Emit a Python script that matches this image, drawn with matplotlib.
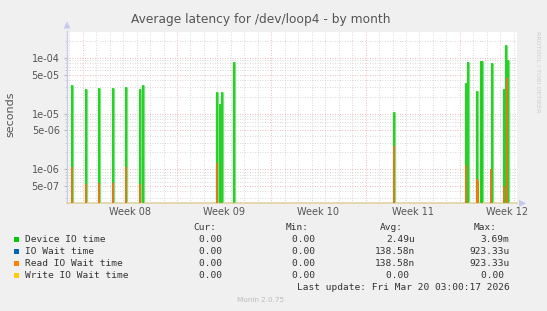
import matplotlib
matplotlib.use("Agg")
import matplotlib.pyplot as plt
from matplotlib.ticker import LogLocator, FuncFormatter, NullFormatter
import numpy as np

# ---- data (x in days from Monday of Week 08) ----
device_days = [-0.77, 0.27, 1.23, 2.27, 3.24, 4.28, 4.45,
               9.95, 10.17, 10.32, 11.25,
               23.13,
               28.48, 28.63, 29.27, 29.55, 29.62, 30.39, 31.30, 31.45, 31.55]
device_vals = [3.2e-5, 2.8e-5, 2.9e-5, 2.9e-5, 3.0e-5, 2.8e-5, 3.3e-5,
               2.4e-5, 1.5e-5, 2.4e-5, 8.6e-5,
               1.07e-5,
               3.6e-5, 8.5e-5, 2.5e-5, 8.7e-5, 8.7e-5, 8.2e-5, 2.8e-5, 1.74e-4, 9.0e-5]
read_days = [-0.77, 0.27, 1.23, 2.27, 3.24, 4.28,
             9.95, 23.13, 28.48, 29.27, 29.35, 30.33, 31.30, 31.47]
read_vals = [1.1e-6, 5.4e-7, 5.6e-7, 5.6e-7, 1.1e-6, 5.4e-7,
             1.3e-6, 2.6e-6, 1.2e-6, 6.8e-7, 6.2e-7, 1.0e-6, 5.0e-7, 4.4e-5]
iowait_days = read_days
iowait_vals = read_vals

week_labels = ["Week 08", "Week 09", "Week 10", "Week 11", "Week 12"]
ytick_vals = [5e-7, 1e-6, 5e-6, 1e-5, 5e-5, 1e-4]

legend_names = ["Device IO time", "IO Wait time", "Read IO Wait time", "Write IO Wait time"]
legend_colors = ["#00CC00", "#0066B3", "#FF8000", "#FFCC00"]
cur_vals = ["0.00 ", "0.00 ", "0.00 ", "0.00 "]
min_vals = ["0.00 ", "0.00 ", "0.00 ", "0.00 "]
avg_vals = ["2.49u", "138.58n", "138.58n", "0.00 "]
max_vals = ["3.69m", "923.33u", "923.33u", "0.00 "]

W, H = 547, 311
BG = "#F0F0F0"
TXT = "#555555"

fig = plt.figure(figsize=(W / 100, H / 100), dpi=100, facecolor=BG)
L, R, T, B = 66.7, 516.7, 31.5, 203.3
ax = fig.add_axes([L / W, 1 - B / H, (R - L) / W, (B - T) / H])
ax.set_facecolor("white")

xmin, xmax = -1.19, 32.22
ymin, ymax = 2.44e-7, 2.98e-4
ax.set_xlim(xmin, xmax)
ax.set_yscale("log")
ax.set_ylim(ymin, ymax)

# grid
dot = (0, (1, 2))
for d in range(-1, 33):
    if d % 7 == 0:
        ax.axvline(d, color="#E8A8A8", lw=0.6, ls=dot, zorder=1)
    else:
        ax.axvline(d, color="#CCCCCC", lw=0.6, ls=dot, zorder=1)
ax.yaxis.set_major_locator(LogLocator(base=10, subs=(1.0, 5.0)))
ax.yaxis.set_minor_locator(LogLocator(base=10, subs=(2.0, 3.0, 4.0, 6.0, 7.0, 8.0, 9.0)))
ax.yaxis.set_major_formatter(FuncFormatter(lambda v, p: f"{v:.0e}"))
ax.yaxis.set_minor_formatter(NullFormatter())
ax.grid(True, axis="y", which="major", color="#E8A8A8", lw=0.6, ls=dot, zorder=1)
ax.grid(True, axis="y", which="minor", color="#CCCCCC", lw=0.6, ls=dot, zorder=1)
ax.set_yticks(ytick_vals)

ax.tick_params(axis="y", which="major", length=2, color="#BBBBBB", labelsize=7, labelcolor=TXT, pad=3)
ax.tick_params(axis="y", which="minor", length=1.5, color="#CCCCCC")
ax.set_xticks([w * 7 + 3.5 for w in range(len(week_labels))])
ax.set_xticklabels(week_labels)
ax.tick_params(axis="x", length=0, labelsize=7, labelcolor=TXT, pad=3)

for s in ["top", "right"]:
    ax.spines[s].set_visible(False)
ax.spines["left"].set_color("#C8C8E8")
ax.spines["bottom"].set_color("#E0D2A0")
ax.spines["left"].set_linewidth(1.0)
ax.spines["bottom"].set_linewidth(1.2)

# data
ax.vlines(device_days, ymin, device_vals, color="#7FE07F", lw=2.4, zorder=2)
ax.vlines(device_days, ymin, device_vals, color="#11CC11", lw=1.1, zorder=3)
ax.vlines(iowait_days, ymin, iowait_vals, color="#0066B3", lw=1.2, zorder=4)
ax.vlines(read_days, ymin, read_vals, color="#FF8000", lw=1.2, zorder=5)

fig.text(10.7 / W, 1 - 114.5 / H, "seconds", rotation=90, ha="center", va="center", fontsize=8, color=TXT)

# arrows
fig.patches.append(plt.Polygon([[63.5 / W, 1 - 28.5 / H], [70.5 / W, 1 - 28.5 / H], [67 / W, 1 - 21.5 / H]],
                               closed=True, transform=fig.transFigure, color="#C8C8F0", lw=0))
fig.patches.append(plt.Polygon([[519 / W, 1 - 199.8 / H], [519 / W, 1 - 206.8 / H], [526 / W, 1 - 203.3 / H]],
                               closed=True, transform=fig.transFigure, color="#C8C8F0", lw=0))

# title
fig.text(261 / W, 1 - 19 / H, "Average latency for /dev/loop4 - by month", ha="center", va="center",
         fontsize=8.8, color=TXT)
fig.text(538 / W, 1 - 72 / H, "RRDTOOL / TOBI OETIKER", rotation=270, ha="center", va="center",
         fontsize=4.6, color="#CCCCCC")

# legend
mono = "DejaVu Sans Mono"
fs = 6.8
hy = 227.7
for txt, xr in [("Cur:", 216), ("Min:", 309), ("Avg:", 403), ("Max:", 497)]:
    fig.text(xr / W, 1 - hy / H, txt, ha="right", va="center", family=mono, fontsize=fs, color="#333333")
rows = [239.3, 251.3, 263.3, 275.3]
for i, y in enumerate(rows):
    fig.patches.append(plt.Rectangle((13.7 / W, 1 - (y + 2.7) / H), 5.4 / W, 5.4 / H,
                                     transform=fig.transFigure, color=legend_colors[i], lw=0))
    fig.text(25 / W, 1 - y / H, legend_names[i], ha="left", va="center", family=mono, fontsize=fs, color="#333333")
    for val, xr in [(cur_vals[i], 227.4), (min_vals[i], 320.7), (avg_vals[i], 415), (max_vals[i], 509.3)]:
        fig.text(xr / W, 1 - y / H, val, ha="right", va="center", family=mono, fontsize=fs, color="#333333")
fig.text(509.3 / W, 1 - 287.3 / H, "Last update: Fri Mar 20 03:00:17 2026", ha="right", va="center",
         family=mono, fontsize=fs, color="#333333")
fig.text(260.5 / W, 1 - 300 / H, "Munin 2.0.75", ha="center", va="center", fontsize=5.2, color="#BBBBBB")

fig.savefig("out.png", dpi=100, facecolor=BG)
